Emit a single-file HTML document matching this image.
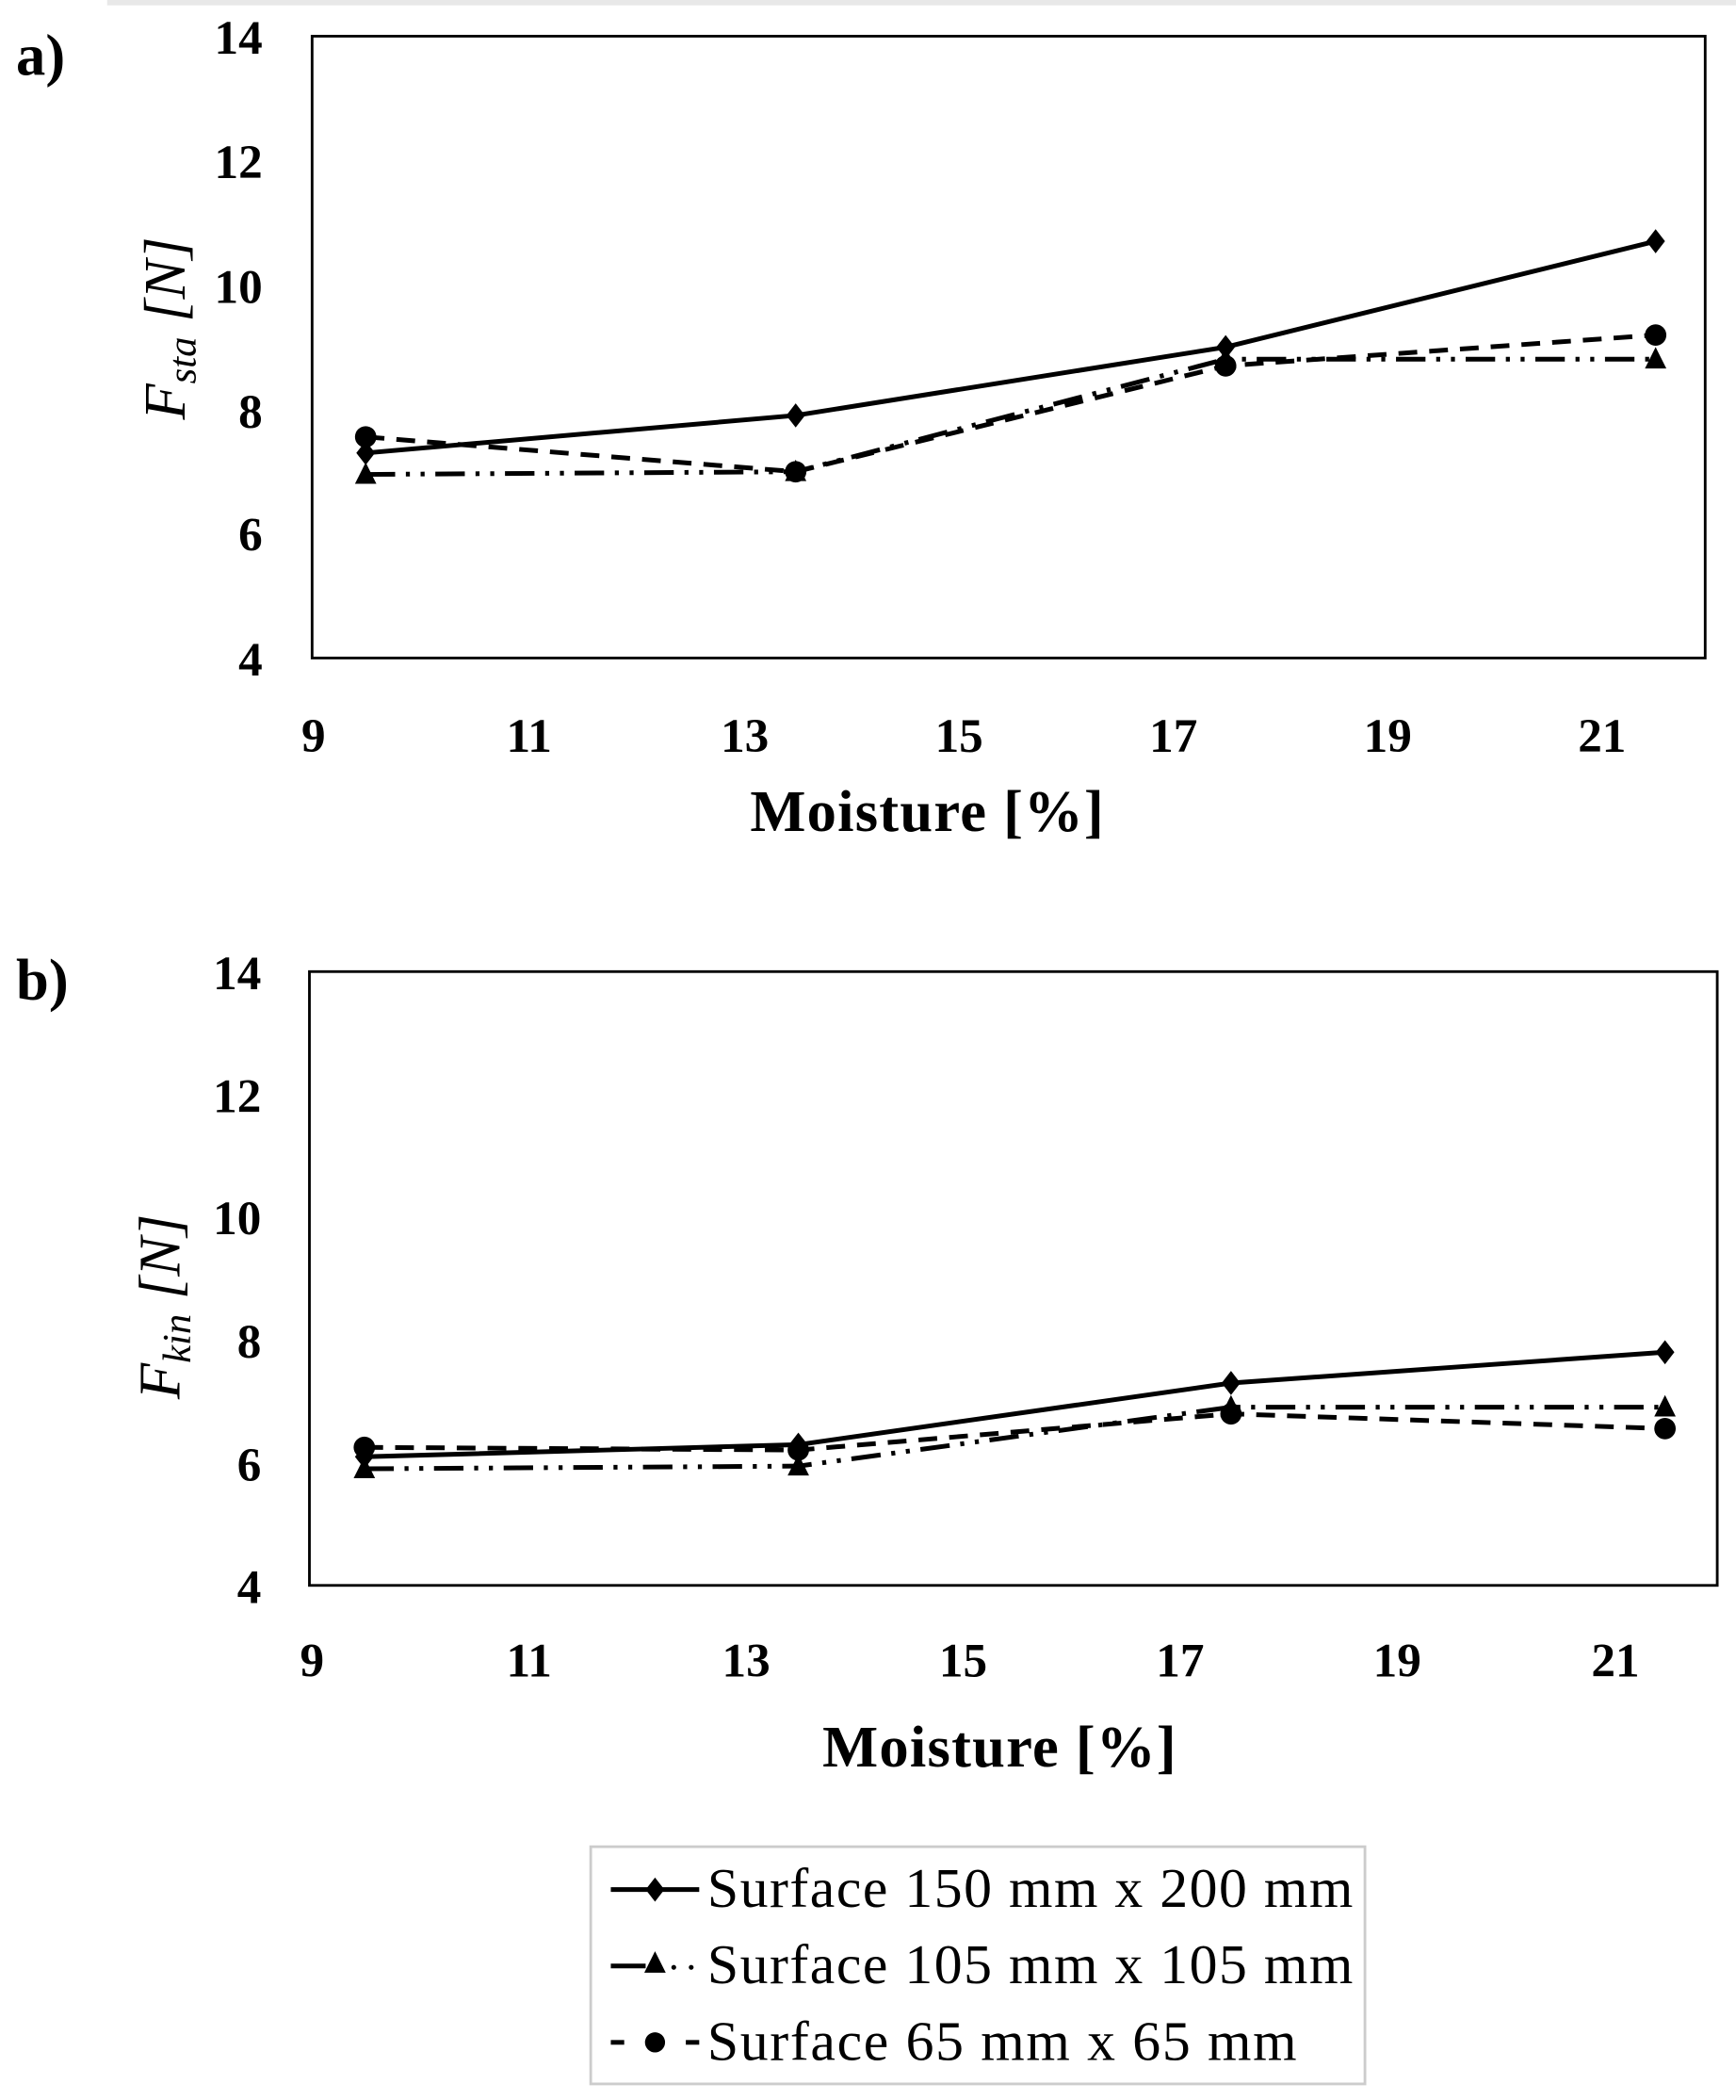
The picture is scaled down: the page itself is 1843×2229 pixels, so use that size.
<!DOCTYPE html>
<html><head><meta charset="utf-8"><style>
html,body{margin:0;padding:0;background:#fff;}
svg{display:block;}
text{font-family:"Liberation Serif",serif;fill:#000;}
.t{font-size:36px;font-weight:bold;}
.ti{font-size:44px;font-weight:bold;}
.lg{font-size:42px;}
</style></head><body>
<svg width="1843" height="2229" viewBox="0 0 1296 1567" preserveAspectRatio="none" xmlns="http://www.w3.org/2000/svg">
<rect x="0" y="0" width="1296" height="1567" fill="#fff"/>
<rect x="80" y="0" width="1216" height="4" fill="#e8e8e8"/>
<defs>
<path id="dm" d="M0,-9 L7,0 L0,9 L-7,0Z"/>
<path id="tr" d="M0,-9 L8,7 L-8,7Z"/>
</defs>
<!-- Chart a -->
<text x="12" y="56" class="ti">a)</text>
<rect x="233" y="27" width="1040" height="464" fill="none" stroke="#000" stroke-width="2"/>
<g class="t" text-anchor="end">
<text x="196" y="40">14</text><text x="196" y="133">12</text><text x="196" y="226">10</text>
<text x="196" y="319">8</text><text x="196" y="411">6</text><text x="196" y="504">4</text>
</g>
<g class="t" text-anchor="middle">
<text x="234" y="561">9</text><text x="395" y="561">11</text><text x="556" y="561">13</text>
<text x="716" y="561">15</text><text x="876" y="561">17</text><text x="1036" y="561">19</text><text x="1196" y="561">21</text>
</g>
<text x="692" y="620" class="ti" text-anchor="middle" textLength="264">Moisture [%]</text>
<text transform="translate(138,245) rotate(-90)" text-anchor="middle" style="font-size:44px;font-style:italic">F<tspan style="font-size:30px" dy="8">sta</tspan><tspan dy="-8"> [N]</tspan></text>
<g fill="none" stroke="#000" stroke-width="3.5">
<polyline points="273,354 594,352 915,268 1236,268" stroke-dasharray="22,8,3,8,3,8"/>
<polyline points="273,326 594,352 915,273 1236,250" stroke-dasharray="14,9"/>
<polyline points="273,338 594,310 915,259 1236,180"/>
</g>
<g fill="#000">
<use href="#tr" x="273" y="354"/><use href="#tr" x="594" y="352"/><use href="#tr" x="915" y="268"/><use href="#tr" x="1236" y="268"/>
<circle cx="273" cy="326" r="8"/><circle cx="594" cy="352" r="8"/><circle cx="915" cy="273" r="8"/><circle cx="1236" cy="250" r="8"/>
<use href="#dm" x="273" y="338"/><use href="#dm" x="594" y="310"/><use href="#dm" x="915" y="259"/><use href="#dm" x="1236" y="180"/>
</g>
<!-- Chart b -->
<text x="12" y="746" class="ti">b)</text>
<rect x="231" y="725" width="1051" height="458" fill="none" stroke="#000" stroke-width="2"/>
<g class="t" text-anchor="end">
<text x="195" y="738">14</text><text x="195" y="830">12</text><text x="195" y="921">10</text>
<text x="195" y="1013">8</text><text x="195" y="1105">6</text><text x="195" y="1196">4</text>
</g>
<g class="t" text-anchor="middle">
<text x="233" y="1251">9</text><text x="395" y="1251">11</text><text x="557" y="1251">13</text>
<text x="719" y="1251">15</text><text x="881" y="1251">17</text><text x="1043" y="1251">19</text><text x="1206" y="1251">21</text>
</g>
<text x="746" y="1318" class="ti" text-anchor="middle" textLength="264">Moisture [%]</text>
<text transform="translate(134,975) rotate(-90)" text-anchor="middle" style="font-size:44px;font-style:italic">F<tspan style="font-size:30px" dy="8">kin</tspan><tspan dy="-8"> [N]</tspan></text>
<g fill="none" stroke="#000" stroke-width="3.5">
<polyline points="272,1096 596,1094 919,1050 1243,1050" stroke-dasharray="22,8,3,8,3,8"/>
<polyline points="272,1080 596,1082 919,1055 1243,1066" stroke-dasharray="14,9"/>
<polyline points="272,1087 596,1078 919,1032 1243,1009"/>
</g>
<g fill="#000">
<use href="#tr" x="272" y="1096"/><use href="#tr" x="596" y="1094"/><use href="#tr" x="919" y="1050"/><use href="#tr" x="1243" y="1050"/>
<circle cx="272" cy="1080" r="8"/><circle cx="596" cy="1082" r="8"/><circle cx="919" cy="1055" r="8"/><circle cx="1243" cy="1066" r="8"/>
<use href="#dm" x="272" y="1087"/><use href="#dm" x="596" y="1078"/><use href="#dm" x="919" y="1032"/><use href="#dm" x="1243" y="1009"/>
</g>
<!-- Legend -->
<rect x="441" y="1378" width="578" height="177" fill="#fff" stroke="#ccc" stroke-width="2"/>
<g stroke="#000" stroke-width="3.5">
<line x1="456" y1="1410" x2="522" y2="1410"/>
<line x1="456" y1="1467" x2="482" y2="1467"/>
<line x1="456" y1="1524" x2="466" y2="1524"/><line x1="512" y1="1524" x2="522" y2="1524"/>
</g>
<g fill="#000">
<use href="#dm" x="489" y="1410"/>
<use href="#tr" x="489" y="1465"/>
<circle cx="503" cy="1468" r="1.8"/><circle cx="516" cy="1468" r="1.8"/>
<circle cx="489" cy="1524" r="7.5"/>
</g>
<g class="lg">
<text x="528" y="1423" textLength="482">Surface 150 mm x 200 mm</text>
<text x="528" y="1480" textLength="482">Surface 105 mm x 105 mm</text>
<text x="528" y="1537" textLength="440">Surface 65 mm x 65 mm</text>
</g>
</svg>
</body></html>
